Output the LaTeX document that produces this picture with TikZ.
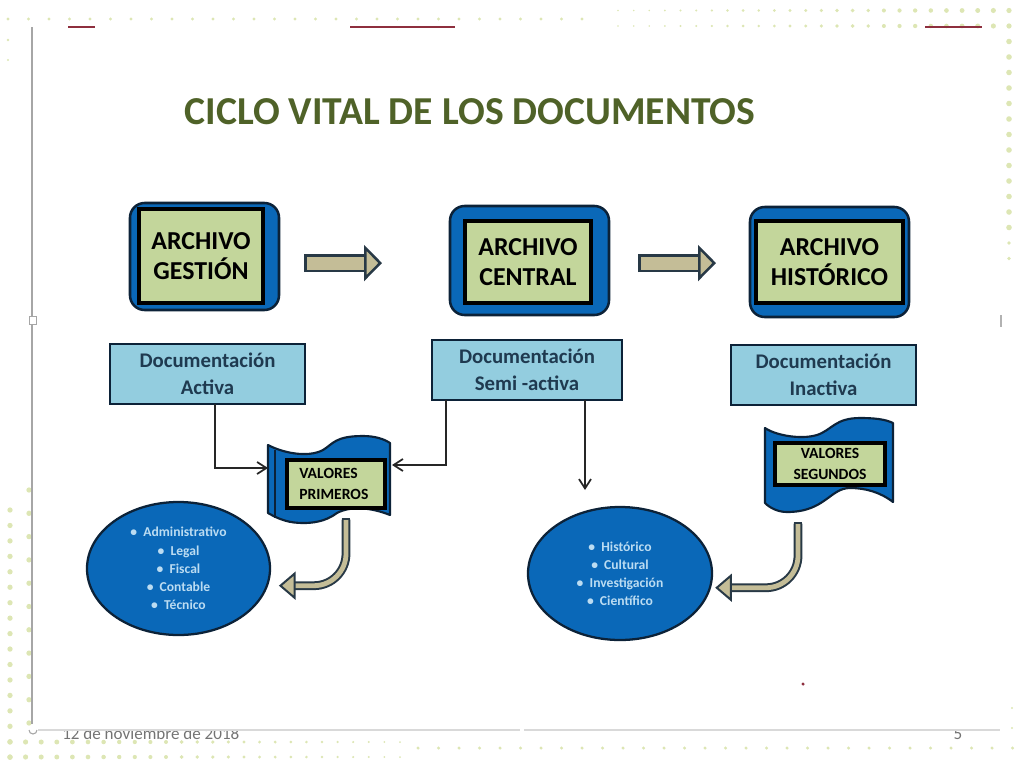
\documentclass[tikz,border=0pt]{standalone}
\usepackage{fontspec}
\setmainfont{Carlito}
\usetikzlibrary{arrows.meta,shapes.geometric}
\definecolor{myblue}{HTML}{0A68B8}
\definecolor{mynavy}{HTML}{0C2238}
\definecolor{mygreen}{HTML}{C3D69B}
\definecolor{mysky}{HTML}{93CDDF}
\definecolor{mytan}{HTML}{C4BD97}
\definecolor{mydot}{HTML}{DDE6B4}
\definecolor{myred}{HTML}{8E2F3E}
\definecolor{myolive}{HTML}{4F6228}
\definecolor{myink}{HTML}{1F3A50}
\definecolor{mypale}{HTML}{BBDCF2}
\begin{document}
\begin{tikzpicture}[x=0.75pt,y=-0.75pt,
  my archive/.style={draw=mynavy, fill=myblue, line width=1.9pt, rounded corners=11pt, inner sep=0pt, outer sep=0pt},
  my label/.style={draw=black, fill=mygreen, line width=2.3pt, inner sep=0pt, outer sep=0pt, align=center, font=\fontsize{19.4}{22.5}\selectfont\bfseries},
  my small label/.style={my label, font=\fontsize{11.7}{15.5}\selectfont\bfseries},
  my doc/.style={draw=mynavy, fill=mysky, line width=1.7pt, inner sep=0pt, outer sep=0pt, align=center, text=myink, font=\fontsize{15.6}{20.5}\selectfont\bfseries},
  my ellipse/.style={ellipse, draw=mynavy, fill=myblue, line width=1.7pt, inner sep=0pt, outer sep=0pt, align=center, text=mypale, font=\fontsize{10.2}{13.6}\selectfont\bfseries},
  my ribbon/.style={draw=mynavy, fill=myblue, line width=1.6pt, line join=round},
  my line/.style={draw=black!85, line width=1.3pt, -{Straight Barb[length=7pt,width=9pt,line width=1.3pt]}},
  my block/.style={draw=#1, double=mytan, line width=1.9pt, double distance=9.8pt, {Bar[width=13.5pt,line width=1.9pt]}-{Triangle[length=13.5pt,width=27pt,fill=mytan,line width=1.9pt]}},
  my bend/.style={draw=#1, double=mytan, line width=1.5pt, double distance=3.6pt, rounded corners=24pt, {Bar[width=6.6pt,line width=1.5pt]}-{Triangle[length=12.5pt,width=21pt,fill=mytan,line width=1.5pt]}},
]
  \useasboundingbox (0,0) rectangle (1024,768);
  % decoration
  \foreach \i in {0,...,28} \fill [mydot] (8+20.5*\i,19) circle (1.3pt);
  \foreach \i in {0,...,25} {
    \pgfmathsetmacro{\r}{0.6+0.055*\i}
    \fill [mydot] (618+15.64*\i,10.5) circle (\r pt);
    \fill [mydot] (618+15.64*\i,26) circle (\r pt);
  }
  \foreach \i in {1,...,13} \fill [mydot] (1009,26+15.5*\i) circle (2.1pt);
  \foreach \i in {14,...,15} \fill [mydot] (1009,26+15.5*\i) circle (1.4pt);
  \fill [mydot] (8,40) circle (1pt) (8,60) circle (.8pt) (1012,708) circle (.8pt) (1012,728) circle (.8pt);
  \foreach \i in {0,...,16} \fill [mydot] (10,510+15.45*\i) circle (2pt);
  \foreach \i in {0,...,10} \fill [mydot] (29,490+23.3*\i) circle (2pt);
  \foreach \i in {0,...,25} {
    \pgfmathsetmacro{\r}{2-0.05*\i}
    \fill [mydot] (10+15.6*\i,742) circle (\r pt);
    \fill [mydot] (10+15.6*\i,757) circle (\r pt);
  }
  \foreach \i in {0,...,29} \fill [mydot] (418+20.5*\i,748) circle (1.3pt);
  % footer, cut off by the white slide
  \node (fecha) [text=black!55, font=\fontsize{12.8}{14}\selectfont, anchor=base west, inner sep=0pt] at (62,739) {12 de noviembre de 2018};
  \node (pagina) [text=black!55, font=\fontsize{12.8}{14}\selectfont, anchor=base, inner sep=0pt] at (958,739) {5};
  \fill [white] (34,30) rectangle (1000,730);
  \draw [black!35, line width=1.1pt] (32,27) -- (32,724);
  \draw [black!15, line width=1.1pt] (38,730) -- (520,730) (524,730) -- (1000,730);
  \draw [black!35, line width=.8pt, fill=white] (29.5,316.5) rectangle (36.5,324.5);
  \draw [black!35, line width=.8pt] (29,730) arc (180:0:4);
  \draw [black!30, line width=.8pt] (1001,315) -- (1001,327);
  \draw [myred, line width=1.1pt] (68,27) -- (95,27) (350,27) -- (455,27) (925,27) -- (982,27);
  \fill [myred] (803,684) circle (1.3pt);

  \node (titulo) [text=myolive, font=\fontsize{29.7}{32}\selectfont\bfseries] at (470,112) {CICLO VITAL DE LOS DOCUMENTOS};

  \node (gestion) [my archive, minimum width=111.75pt, minimum height=80.25pt] at (204.5,256.5) {};
  \node (gestion text) [my label, minimum width=93pt, minimum height=70.5pt] at (201,256) {ARCHIVO\\GESTIÓN};
  \node (central) [my archive, minimum width=119.25pt, minimum height=81.75pt] at (529.5,260.5) {};
  \node (central text) [my label, minimum width=94.5pt, minimum height=61.5pt] at (528,262) {ARCHIVO\\CENTRAL};
  \node (historico) [my archive, minimum width=119.25pt, minimum height=82.5pt] at (829.5,262) {};
  \node (historico text) [my label, minimum width=110.25pt, minimum height=61.5pt] at (829.5,262) {ARCHIVO\\HISTÓRICO};

  \node (activa) [my doc, minimum width=146.25pt, minimum height=45pt] at (207.5,374) {Documentación\\Activa};
  \node (semi) [my doc, minimum width=142.5pt, minimum height=45pt] at (527,370) {Documentación\\Semi -activa};
  \node (inactiva) [my doc, minimum width=138.75pt, minimum height=45pt] at (823.5,375) {Documentación\\Inactiva};

  \draw [my ribbon] (268,445) .. controls (283,453) and (308,458) .. (323,450) .. controls (333,444) and (335,436) .. (363,436) .. controls (375,436) and (384,439) .. (390,443) -- (390,515) .. controls (370,507) and (350,506) .. (337,513) .. controls (325,522) and (312,523) .. (303,523) .. controls (290,523) and (280,520) .. (268,513) -- cycle;
  \draw [mynavy, line width=.9pt] (275,450) -- (275,518);
  \draw [my ribbon] (765,428) .. controls (775,435) and (800,440) .. (817,435) .. controls (832,430) and (835,418) .. (860,418) .. controls (873,418) and (885,419) .. (893,423) -- (893,502) .. controls (880,492) and (865,488) .. (850,488) .. controls (830,488) and (825,512) .. (787,512) .. controls (778,512) and (770,508) .. (765,503) -- cycle;
  \node (primeros) [my small label, align=left, minimum width=73.5pt, minimum height=36pt, text width=55pt] at (336,484) {VALORES\\PRIMEROS};
  \node (segundos) [my small label, minimum width=82.5pt, minimum height=31.5pt] at (830,464) {VALORES\\SEGUNDOS};

  \node (admin) [my ellipse, minimum width=137.25pt, minimum height=99.75pt] at (178.5,568.5) {•\ \ Administrativo\\•\ \ Legal\\•\ \ Fiscal\\•\ \ Contable\\•\ \ Técnico};
  \node (cultura) [my ellipse, minimum width=138pt, minimum height=99.75pt] at (620,573.5) {•\ \ Histórico\\•\ \ Cultural\\•\ \ Investigación\\•\ \ Científico};

  \coordinate (primeros w) at (268,468);
  \coordinate (primeros e) at (392,465);
  \coordinate (primeros s) at (346,518);
  \coordinate (segundos s) at (798,522);
  \coordinate (semi end) at (585,490);
  \draw [my line] ([xshift=5.6pt]activa.south) |- (primeros w);
  \draw [my line] ([xshift=-60.75pt]semi.south) |- (primeros e);
  \draw [my line] ([xshift=43.5pt]semi.south) -- (semi end);

  \draw [my block=mynavy!85!mytan, shorten <=18.75pt, shorten >=51pt] ([yshift=-4.9pt]gestion.east) -- ([yshift=-4.9pt]gestion.east -| central.west);
  \draw [my block=mynavy!85!mytan, shorten <=21.75pt, shorten >=25.5pt] ([yshift=-1.9pt]central.east) -- ([yshift=-1.9pt]central.east -| historico.west);
  \draw [my bend=mynavy!85!mytan, shorten >=9pt] (primeros s) |- (admin.-11);
  \draw [my bend=mynavy!85!mytan, shorten >=4pt] (segundos s) |- (cultura.-9);
\end{tikzpicture}
\end{document}
